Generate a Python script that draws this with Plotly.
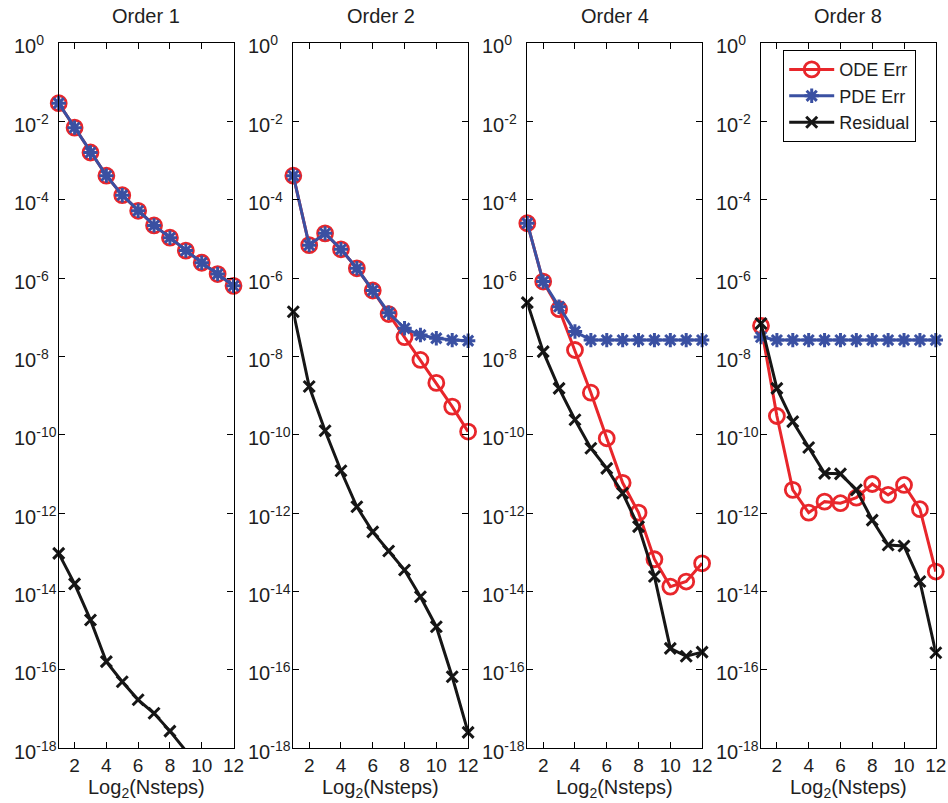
import plotly.graph_objects as go

x = list(range(1, 13))

# Order 1
ode1 = [2.9e-2, 6.9e-3, 1.6e-3, 4.1e-4, 1.3e-4, 5.2e-5, 2.2e-5, 1.07e-5, 5.0e-6, 2.45e-6, 1.26e-6, 6.3e-7]
pde1 = [2.9e-2, 6.9e-3, 1.6e-3, 4.1e-4, 1.3e-4, 5.2e-5, 2.2e-5, 1.07e-5, 5.0e-6, 2.45e-6, 1.26e-6, 6.3e-7]
res1 = [9.3e-14, 1.55e-14, 1.86e-15, 1.6e-16, 4.9e-17, 1.7e-17, 7.7e-18, 2.7e-18, 8.5e-19, 2.5e-19, 8e-20, 2.5e-20]

# Order 2
ode2 = [4.1e-4, 6.9e-6, 1.38e-5, 5.4e-6, 1.77e-6, 4.8e-7, 1.2e-7, 3.1e-8, 8.1e-9, 2.1e-9, 5.2e-10, 1.2e-10]
pde2 = [4.1e-4, 6.9e-6, 1.38e-5, 5.4e-6, 1.77e-6, 4.8e-7, 1.3e-7, 5.2e-8, 3.5e-8, 2.9e-8, 2.6e-8, 2.5e-8]
res2 = [1.38e-7, 1.7e-9, 1.26e-10, 1.2e-11, 1.44e-12, 3.3e-13, 1.07e-13, 3.5e-14, 7.3e-15, 1.25e-15, 6.6e-17, 2.5e-18]

# Order 4
ode4 = [2.5e-5, 8.1e-7, 1.6e-7, 1.45e-8, 1.18e-9, 8.1e-11, 5.9e-12, 1.02e-12, 6.6e-14, 1.32e-14, 1.78e-14, 5.2e-14]
pde4 = [2.5e-5, 8.1e-7, 1.85e-7, 4.3e-8, 2.6e-8, 2.6e-8, 2.6e-8, 2.6e-8, 2.6e-8, 2.6e-8, 2.6e-8, 2.6e-8]
res4 = [2.35e-7, 1.32e-8, 1.52e-9, 2.4e-10, 4.5e-11, 1.38e-11, 3.2e-12, 4.5e-13, 2.4e-14, 3.5e-16, 2.2e-16, 2.8e-16]

# Order 8
ode8 = [6.0e-8, 3.0e-10, 3.9e-12, 1.02e-12, 1.95e-12, 1.78e-12, 2.46e-12, 5.5e-12, 2.9e-12, 5.2e-12, 1.25e-12, 3.2e-14]
pde8 = [3.1e-8, 2.6e-8, 2.6e-8, 2.6e-8, 2.6e-8, 2.6e-8, 2.6e-8, 2.6e-8, 2.6e-8, 2.6e-8, 2.6e-8, 2.6e-8]
res8 = [6.9e-8, 1.52e-9, 2.15e-10, 4.7e-11, 1.03e-11, 1.0e-11, 3.9e-12, 6.6e-13, 1.52e-13, 1.44e-13, 1.78e-14, 2.7e-16]

titles = ["Order 1", "Order 2", "Order 4", "Order 8"]
panels = [(ode1, pde1, res1), (ode2, pde2, res2), (ode4, pde4, res4), (ode8, pde8, res8)]

ytick_exps = list(range(-18, 1, 2))
ytick_vals = [10.0 ** e for e in ytick_exps]
ytick_text = ["10<sup>%d</sup>" % e for e in ytick_exps]
xtick_vals = [2, 4, 6, 8, 10, 12]

RED = "#e8262b"
BLUE = "#3a50a2"
BLACK = "#161616"
TXT = "#1e1e1e"
FONT = "Liberation Sans"
FS = 20

W, H = 948, 803
px_left = [58.7, 293.3, 527.3, 761.0]
px_w = 174.8
y_top, y_bot = 43.0, 748.0

fig = go.Figure()
for i, (ode, pde, res) in enumerate(panels):
    n = "" if i == 0 else str(i + 1)
    xa, ya = "x" + n, "y" + n
    show = i == 3
    fig.add_trace(go.Scatter(x=x, y=ode, xaxis=xa, yaxis=ya, name="ODE Err", mode="lines+markers",
                             line=dict(color=RED, width=3), cliponaxis=False, showlegend=show,
                             marker=dict(symbol="circle-open", size=15, color=RED, line=dict(width=2.8, color=RED))))
    fig.add_trace(go.Scatter(x=x, y=pde, xaxis=xa, yaxis=ya, name="PDE Err", mode="lines+markers",
                             line=dict(color=BLUE, width=3), cliponaxis=False, showlegend=show,
                             marker=dict(symbol="asterisk-open", size=12, color=BLUE, line=dict(width=3, color=BLUE))))
    fig.add_trace(go.Scatter(x=x, y=res, xaxis=xa, yaxis=ya, name="Residual", mode="lines+markers",
                             line=dict(color=BLACK, width=3), cliponaxis=False, showlegend=show,
                             marker=dict(symbol="x-thin-open", size=11, color=BLACK, line=dict(width=3, color=BLACK))))

    x0 = px_left[i] / W
    x1 = (px_left[i] + px_w) / W
    axis_common = dict(showline=True, linecolor="black", linewidth=1.2, mirror="ticks", ticks="inside",
                       ticklen=6, tickcolor="black", tickwidth=1.2, showgrid=False, zeroline=False, automargin=False)
    fig.layout["xaxis" + n] = dict(domain=[x0, x1], anchor=ya, range=[1, 12], tickvals=xtick_vals,
                                   tickfont=dict(family=FONT, size=19, color=TXT), **axis_common)
    fig.layout["yaxis" + n] = dict(domain=[1 - y_bot / H, 1 - y_top / H], anchor=xa, type="log",
                                   range=[-18, 0], tickvals=ytick_vals, showticklabels=False, **axis_common)
    # y tick labels, left-aligned like the original
    for e, t in zip(ytick_exps, ytick_text):
        fig.add_annotation(text=t, x=(px_left[i] - 47) / W, xref="paper", y=e, yref=ya,
                           xanchor="left", yanchor="middle", showarrow=False, yshift=-2,
                           font=dict(family=FONT, size=FS, color=TXT))
    fig.add_annotation(text=titles[i], x=(x0 + x1) / 2, y=1 - 16 / H, xref="paper", yref="paper",
                       xanchor="center", yanchor="middle", showarrow=False,
                       font=dict(family=FONT, size=FS, color=TXT))
    fig.add_annotation(text="Log<sub>2</sub>(Nsteps)", x=(x0 + x1) / 2, y=1 - 788 / H, xref="paper", yref="paper",
                       xanchor="center", yanchor="middle", showarrow=False,
                       font=dict(family=FONT, size=FS, color=TXT))

fig.update_layout(
    width=W, height=H, margin=dict(l=0, r=0, t=0, b=0, autoexpand=False),
    paper_bgcolor="white", plot_bgcolor="white",
    font=dict(family=FONT, size=FS, color=TXT),
    legend=dict(x=783 / W, y=1 - 50 / H, xanchor="left", yanchor="top", bgcolor="white",
                bordercolor="black", borderwidth=1.2, font=dict(family=FONT, size=18, color=TXT),
                tracegroupgap=0, itemwidth=45),
)

fig.write_html("out.html")
